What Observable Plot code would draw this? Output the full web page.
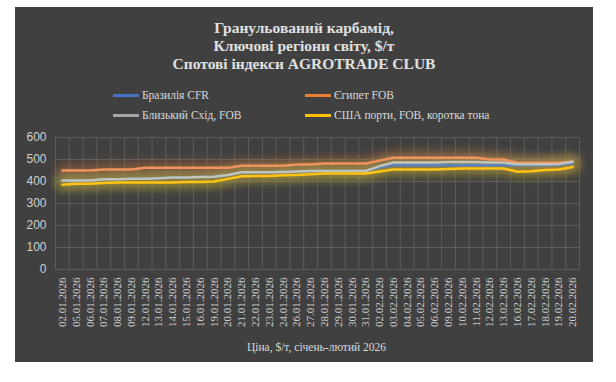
<!DOCTYPE html>
<html>
<head>
<meta charset="utf-8">
<script src="https://cdn.jsdelivr.net/npm/d3@7"></script>
<script src="https://cdn.jsdelivr.net/npm/@observablehq/plot@0.6"></script>
<style>
  html, body { margin: 0; padding: 0; background: #ffffff; width: 616px; height: 382px; overflow: hidden; }
  #panel { position: absolute; left: 15px; top: 7px; width: 578px; height: 355px; background: #404040; }
  #title { position: absolute; left: 0; top: 12px; width: 578px; text-align: center; font-family: "Liberation Serif", serif; font-weight: bold; font-size: 15.5px; line-height: 18px; color: #e0e0e0; }
  .leg { position: absolute; font-family: "Liberation Serif", serif; font-size: 11.5px; color: #d9d9d9; white-space: nowrap; line-height: 14px; }
  .sw { display: inline-block; width: 26px; height: 2.5px; vertical-align: middle; margin-right: 3px; position: relative; top: -1px; }
  #chart { position: absolute; left: 0; top: 118px; }
  #chart svg text { font-family: "Liberation Serif", serif !important; fill: #d0d0d0; }
  #chart svg g[aria-label="y-axis"] text, #chart svg g[aria-label="y-axis tick label"] text { font-family: "Liberation Sans", sans-serif !important; font-size: 12px; }
  #caption { position: absolute; left: 0; top: 334px; width: 578px; padding-left: 25px; box-sizing: border-box; text-align: center; font-family: "Liberation Serif", serif; font-size: 11.5px; color: #d9d9d9; }
</style>
</head>
<body>
<div id="panel">
  <div id="title"></div>
  <div id="legend"></div>
  <div id="chart"></div>
  <div id="caption"></div>
</div>
<script>
const titleLines = ["Гранульований карбамід,", "Ключові регіони світу, $/т", "Спотові індекси AGROTRADE CLUB"];
const xTitle = "Ціна, $/т, січень-лютий 2026";
const dates = ["02.01.2026","05.01.2026","06.01.2026","07.01.2026","08.01.2026","09.01.2026","12.01.2026","13.01.2026","14.01.2026","15.01.2026","16.01.2026","19.01.2026","20.01.2026","21.01.2026","22.01.2026","23.01.2026","24.01.2026","26.01.2026","27.01.2026","28.01.2026","29.01.2026","30.01.2026","31.01.2026","02.02.2026","03.02.2026","04.02.2026","05.02.2026","06.02.2026","09.02.2026","10.02.2026","11.02.2026","12.02.2026","13.02.2026","16.02.2026","17.02.2026","18.02.2026","19.02.2026","20.02.2026"];
const seriesNames = ["Бразилія CFR", "Єгипет FOB", "Близький Схід, FOB", "США порти, FOB, коротка тона"];
const brazil =     [405,405,405,410,410,412,412,415,418,418,420,422,430,442,442,442,443,445,448,448,448,448,448,465,474,474,474,474,474,474,474,474,474,474,474,474,476,482];
const egypt =      [450,450,450,455,455,455,462,462,462,462,462,462,462,472,472,472,472,477,477,482,482,482,482,495,508,508,508,508,508,508,508,500,500,485,485,485,485,490];
const middleEast = [405,405,405,410,410,412,412,415,418,418,420,422,430,442,442,442,443,445,448,448,448,448,448,470,486,486,486,486,489,489,489,486,486,478,478,478,480,490];
const usa =        [385,390,390,393,395,395,395,395,395,398,398,400,412,424,425,425,428,430,433,436,436,436,436,445,455,455,455,455,457,459,459,459,459,444,447,452,455,466];
const yTicks = [0,100,200,300,400,500,600];
const legendColors = ["#4472C4", "#ED7D31", "#A5A5A5", "#FFC000"];
const lineColors = ["#5B83C4", "#F2935C", "#C3C4B8", "#FFC413"];
const glowColors = ["#8a8a50", "#C86A30", "#9a9a70", "#B8A020"];

document.getElementById("title").innerHTML = titleLines.join("<br>");
document.getElementById("caption").textContent = xTitle;

const legendPos = [[98, 81], [290, 81], [98, 101], [290, 101]];
const legend = document.getElementById("legend");
seriesNames.forEach((name, i) => {
  const d = document.createElement("div");
  d.className = "leg";
  d.style.left = legendPos[i][0] + "px";
  d.style.top = legendPos[i][1] + "px";
  d.innerHTML = `<span class="sw" style="background:${legendColors[i]}"></span>`;
  d.appendChild(document.createTextNode(name));
  legend.appendChild(d);
});

const allValues = [brazil, egypt, middleEast, usa];
const rows = [];
allValues.forEach((vals, s) => vals.forEach((v, i) => rows.push({series: seriesNames[s], s, i, x: i + 0.5, date: dates[i], value: v})));

const glowMarks = seriesNames.map((name, s) =>
  Plot.line(rows.filter(r => r.s === s), {x: "x", y: "value", stroke: glowColors[s], strokeWidth: 14, strokeOpacity: 0.4, curve: "linear"})
);
const lineMarks = seriesNames.map((name, s) =>
  Plot.line(rows.filter(r => r.s === s), {x: "x", y: "value", stroke: lineColors[s], strokeWidth: 2.5, curve: "linear"})
);

const chart = Plot.plot({
  width: 578,
  height: 237,
  marginLeft: 40,
  marginRight: 14,
  marginTop: 12,
  marginBottom: 93,
  style: {background: "transparent", color: "#d0d0d0", fontFamily: "Liberation Serif, serif", fontSize: "11px"},
  x: {type: "linear", domain: [0, dates.length], ticks: d3.range(dates.length).map(i => i + 0.5), tickFormat: d => dates[Math.floor(d)], tickRotate: -90, tickSize: 0, tickPadding: 8, label: null},
  y: {domain: [0, 600], ticks: yTicks, tickSize: 0, tickPadding: 9, label: null},
  marks: [
    Plot.ruleY(yTicks, {stroke: "#5c5c5c", strokeWidth: 1}),
    Plot.ruleX(d3.range(dates.length + 1), {stroke: "#5c5c5c", strokeWidth: 1}),
    ...glowMarks,
    ...lineMarks
  ]
});
document.getElementById("chart").appendChild(chart);
const lineGroups = chart.querySelectorAll('g[aria-label="line"]');
for (let k = 0; k < seriesNames.length && k < lineGroups.length; k++) {
  lineGroups[k].style.filter = "blur(5px)";
}
</script>
</body>
</html>
